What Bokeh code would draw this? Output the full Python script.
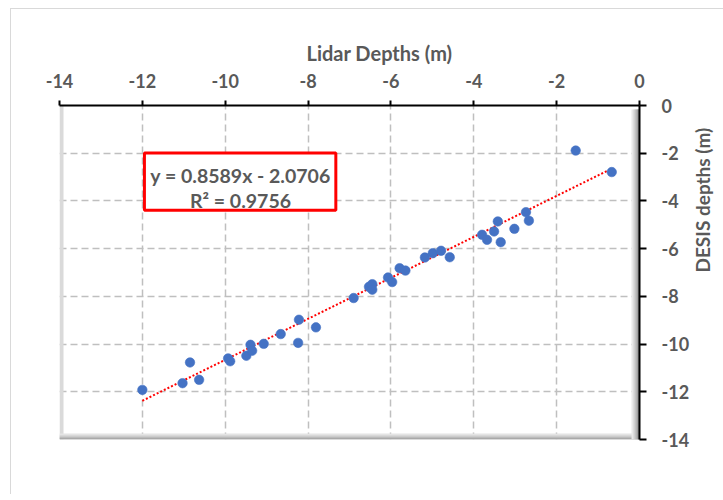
import math
import numpy as np
from bokeh.plotting import figure
from bokeh.models import Range1d, Label, BoxAnnotation, FixedTicker, Title
from bokeh.embed import file_html
from bokeh.resources import INLINE

# ---- data ----
lidar = [-12.00, -11.03, -10.85, -10.63, -9.93, -9.88, -9.49, -9.39, -9.35, -9.07,
         -8.66, -8.22, -8.24, -7.81, -6.90, -6.53, -6.45, -6.45, -6.07, -5.97,
         -5.79, -5.65, -5.18, -4.99, -4.79, -4.58, -3.80, -3.68, -3.51, -3.42,
         -3.35, -3.02, -2.74, -2.67, -1.54, -0.67]
desis = [-11.92, -11.64, -10.77, -11.50, -10.60, -10.72, -10.49, -10.03, -10.28, -9.99,
         -9.58, -8.98, -9.95, -9.30, -8.07, -7.60, -7.49, -7.72, -7.21, -7.40,
         -6.82, -6.92, -6.37, -6.19, -6.09, -6.36, -5.42, -5.63, -5.28, -4.86,
         -5.73, -5.17, -4.47, -4.83, -1.89, -2.79]
slope = 0.8589
intercept = -2.0706
r_squared = 0.9756
tick_values = [-14, -12, -10, -8, -6, -4, -2, 0]
x_title = "Lidar Depths (m)"
y_title = "DESIS depths (m)"

# ---- styling ----
FW, FH = 580, 334
PXX, PXY = FW / 14.0, FH / 14.0
TXT = "#595959"
FONT = "Lato"

p = figure(frame_width=FW, frame_height=FH,
           min_border_left=48, min_border_right=83, min_border_top=96, min_border_bottom=55,
           x_range=Range1d(-14, 0), y_range=Range1d(-14, 0),
           x_axis_location="above", y_axis_location="right",
           output_backend="svg", toolbar_location=None)
p.outline_line_color = None
p.background_fill_color = "white"
p.border_fill_color = "white"
p.styles = {"margin-left": "10px", "margin-top": "8px",
            "border-top": "1px solid #d9d9d9", "border-left": "1px solid #d9d9d9"}

for ax in (p.xaxis[0], p.yaxis[0]):
    ax.ticker = FixedTicker(ticks=tick_values)
    ax.major_label_overrides = {t: str(t) for t in tick_values}
    ax.axis_line_color = "black"
    ax.axis_line_width = 2
    ax.major_tick_line_color = "black"
    ax.major_tick_line_width = 2
    ax.major_tick_in = 0
    ax.minor_tick_line_color = None
    ax.major_label_text_font = FONT
    ax.major_label_text_font_style = "bold"
    ax.major_label_text_font_size = "18px"
    ax.major_label_text_color = TXT
p.xaxis[0].major_tick_out = 5
p.xaxis[0].major_label_standoff = 13
p.yaxis[0].major_tick_out = 7
p.yaxis[0].major_label_standoff = 15

# y axis title, reading bottom to top
ya = p.yaxis[0]
ya.axis_label = y_title
ya.axis_label_text_font = FONT
ya.axis_label_text_font_style = "bold"
ya.axis_label_text_font_size = "19px"
ya.axis_label_text_color = TXT
ya.axis_label_standoff = 10
ya.axis_label_orientation = math.pi / 2

# x axis title (offset to the right as in the reference)
p.add_layout(Title(text=x_title, align="left", offset=247, standoff=11,
                   text_font=FONT, text_font_style="bold", text_font_size="20px",
                   text_color=TXT), "above")

for g in (p.xgrid[0], p.ygrid[0]):
    g.grid_line_color = "#bfbfbf"
    g.grid_line_width = 1.5
    g.grid_line_dash = "7 4"

# frame shadow (left, bottom, right)
p.add_layout(BoxAnnotation(left=-14, right=-14 + 4 / PXX, fill_color="#dadada",
                           fill_alpha=1, line_color=None, level="underlay"))
for k, c in [(6, "#e4e4e4"), (4, "#cccccc"), (2, "#a9a9a9")]:
    p.add_layout(BoxAnnotation(bottom=-14, top=-14 + k / PXY, left=-14,
                               fill_color=c, fill_alpha=1, line_color=None, level="underlay"))
for k, c in [(8, "#e8e8e8"), (6, "#d0d0d0"), (4, "#b4b4b4"), (2, "#8c8c8c")]:
    p.add_layout(BoxAnnotation(left=-k / PXX, right=0, top=-4 / PXY,
                               fill_color=c, fill_alpha=1, line_color=None, level="underlay"))

# trendline and points
xs = np.array([min(lidar), max(lidar)])
ys = slope * xs + intercept
p.line(xs, ys, line_color="#ff0000", line_width=2, line_dash="2 2")
p.scatter(lidar, desis, size=9.5, fill_color="#4472C4", line_color="#4472C4", line_width=0.6)

# equation box
p.add_layout(BoxAnnotation(left=-11.95, right=-7.33, top=-1.99, bottom=-4.39,
                           fill_color="white", fill_alpha=1,
                           line_color="#ff0000", line_alpha=1, line_width=3))
eq1 = f"y = {slope}x - {abs(intercept)}"
eq2 = f"R\u00b2 = {r_squared}"
for txt, yy in [(eq1, -2.94), (eq2, -3.99)]:
    p.add_layout(Label(x=-9.63, y=yy, text=txt, text_align="center", text_baseline="alphabetic",
                       text_font=FONT, text_font_style="bold", text_font_size="19.5px",
                       text_color=TXT))

open("out.html", "w").write(file_html(p, INLINE))
